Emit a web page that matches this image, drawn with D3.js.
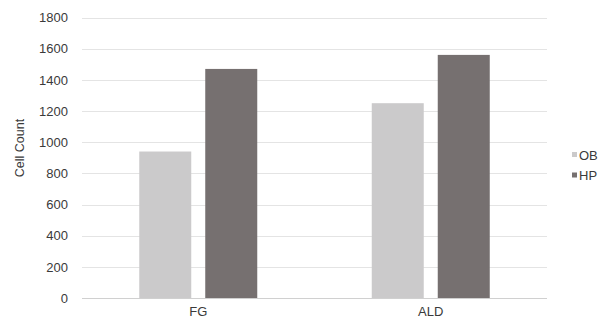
<!DOCTYPE html>
<html><head><meta charset="utf-8">
<script src="https://cdn.jsdelivr.net/npm/d3@7"></script>
<style>body{margin:0;background:#fff}svg{display:block}</style>
</head><body>
<script>
const categories = ["FG", "ALD"];
const seriesNames = ["OB", "HP"];
const obValues = [940, 1250];
const hpValues = [1470, 1560];
const yTicks = [0, 200, 400, 600, 800, 1000, 1200, 1400, 1600, 1800];
const colors = ["#cbcacb", "#767070"];

const W = 605, H = 324;
const m = {left: 82, right: 58, top: 17.5, bottom: 26};
const FONT = "Liberation Sans, Arial, sans-serif";
const svg = d3.select("body").append("svg").attr("width", W).attr("height", H);
const x = d3.scaleBand().domain(categories).range([m.left, W - m.right]).paddingInner(0).paddingOuter(0);
const y = d3.scaleLinear().domain([0, 1800]).range([H - m.bottom, m.top]);
const inner = d3.scaleBand().domain(seriesNames).range([0, 118]).paddingInner(14/66);

// grid
svg.append("g").selectAll("line").data(yTicks).join("line")
  .attr("x1", m.left).attr("x2", W - m.right)
  .attr("y1", d => Math.round(y(d)) + 0.5).attr("y2", d => Math.round(y(d)) + 0.5)
  .attr("stroke", d => d === 0 ? "#d0d0d0" : "#e4e4e4").attr("stroke-width", 1);

// y axis labels
const yAxis = d3.axisLeft(y).tickValues(yTicks).tickFormat(d3.format("d")).tickSize(0).tickPadding(14);
const ga = svg.append("g").attr("transform", `translate(${m.left},0)`).call(yAxis);
ga.select(".domain").remove();
ga.selectAll("text").attr("font-family", FONT).attr("font-size", 13).attr("fill", "#3a3a3a");

// x axis labels
const xAxis = d3.axisBottom(x).tickSize(0).tickPadding(9);
const gx = svg.append("g").attr("transform", `translate(0,${H - m.bottom})`).call(xAxis);
gx.select(".domain").remove();
gx.selectAll("text").attr("font-family", FONT).attr("font-size", 13).attr("fill", "#3a3a3a");

// bars
const data = categories.map((c, i) => ({c, vals: [obValues[i], hpValues[i]]}));
const groups = svg.append("g").selectAll("g").data(data).join("g")
  .attr("transform", d => `translate(${x(d.c) + x.bandwidth()/2 - 59},0)`);
groups.selectAll("rect").data(d => d.vals.map((v, j) => ({s: seriesNames[j], v, j}))).join("rect")
  .attr("x", d => inner(d.s)).attr("width", inner.bandwidth())
  .attr("y", d => y(d.v)).attr("height", d => y(0) - y(d.v))
  .attr("fill", d => colors[d.j]);

// y title
svg.append("text").attr("transform", "translate(24,148) rotate(-90)")
  .attr("text-anchor", "middle").attr("font-family", FONT)
  .attr("font-size", 12.5).attr("fill", "#3a3a3a").text("Cell Count");

// legend
const lg = svg.append("g").selectAll("g").data(seriesNames).join("g")
  .attr("transform", (d, i) => `translate(572,${152 + i * 20.5})`);
lg.append("rect").attr("width", 5).attr("height", 5).attr("fill", (d, i) => colors[i]);
lg.append("text").attr("x", 7).attr("y", 7.5).attr("font-family", FONT)
  .attr("font-size", 13).attr("fill", "#3a3a3a").text(d => d);
</script>
</body></html>
